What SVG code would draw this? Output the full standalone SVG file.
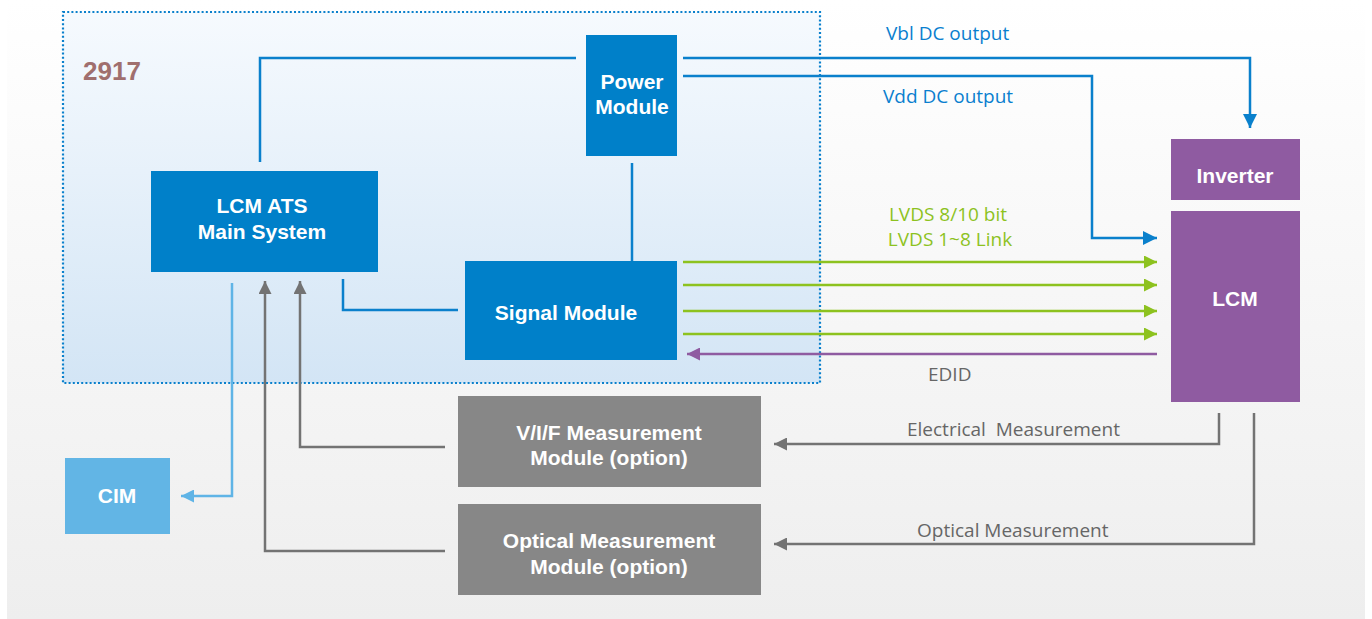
<svg xmlns="http://www.w3.org/2000/svg" width="1372" height="619" viewBox="0 0 1372 619">
<defs>
<linearGradient id="bg" x1="0" y1="0" x2="0" y2="1"><stop offset="0" stop-color="#ffffff"/><stop offset="1" stop-color="#eeeeee"/></linearGradient>
<linearGradient id="sys" x1="0" y1="0" x2="0" y2="1"><stop offset="0" stop-color="#f6fafe"/><stop offset="1" stop-color="#d3e5f5"/></linearGradient>
<marker id="aBlue" viewBox="0 0 10 10" refX="10" refY="5" markerWidth="18" markerHeight="14" markerUnits="userSpaceOnUse" orient="auto"><path d="M0,0L10,5L0,10z" fill="#0a80cc"/></marker>
<marker id="aGreen" viewBox="0 0 10 10" refX="10" refY="5" markerWidth="18" markerHeight="13" markerUnits="userSpaceOnUse" orient="auto"><path d="M0,0L10,5L0,10z" fill="#8dc21f"/></marker>
<marker id="aPurple" viewBox="0 0 10 10" refX="10" refY="5" markerWidth="18" markerHeight="13" markerUnits="userSpaceOnUse" orient="auto"><path d="M0,0L10,5L0,10z" fill="#8f5ba1"/></marker>
<marker id="aGray" viewBox="0 0 10 10" refX="10" refY="5" markerWidth="18" markerHeight="13" markerUnits="userSpaceOnUse" orient="auto"><path d="M0,0L10,5L0,10z" fill="#737373"/></marker>
<marker id="aLight" viewBox="0 0 10 10" refX="10" refY="5" markerWidth="18" markerHeight="13" markerUnits="userSpaceOnUse" orient="auto"><path d="M0,0L10,5L0,10z" fill="#5fb4e6"/></marker>
</defs>
<style>
.bt{font-family:"Liberation Sans",Arial,sans-serif;font-weight:bold;fill:#ffffff;text-anchor:middle;font-size:21px}
.lb{font-family:"Open Sans","Noto Sans",sans-serif;font-size:19px}
.blue{stroke:#0a80cc;stroke-width:2.5;fill:none}
.green{stroke:#8dc21f;stroke-width:2.5;fill:none}
.gray{stroke:#737373;stroke-width:2.5;fill:none}
</style>
<rect x="7" y="0" width="1358" height="619" fill="url(#bg)"/>
<g id="system">
<rect x="63" y="12" width="757" height="371" fill="url(#sys)" stroke="#0a80cc" stroke-width="2.2" stroke-dasharray="2 2.2"/>
<text x="83" y="80" font-family="Liberation Sans,Arial,sans-serif" font-weight="bold" font-size="26" fill="#a06f6e">2917</text>
</g>
<g id="connectors">
<polyline class="blue" points="260,162 260,58 576,58"/>
<polyline class="blue" points="683,58 1250,58 1250,128" marker-end="url(#aBlue)"/>
<polyline class="blue" points="683,76 1092,76 1092,238 1157,238" marker-end="url(#aBlue)"/>
<line class="blue" x1="632" y1="163" x2="632" y2="261"/>
<polyline class="blue" points="343,279 343,310 458,310"/>
<line class="green" x1="683" y1="262" x2="1157" y2="262" marker-end="url(#aGreen)"/>
<line class="green" x1="683" y1="285" x2="1157" y2="285" marker-end="url(#aGreen)"/>
<line class="green" x1="683" y1="311" x2="1157" y2="311" marker-end="url(#aGreen)"/>
<line class="green" x1="683" y1="334" x2="1157" y2="334" marker-end="url(#aGreen)"/>
<line x1="1157" y1="354" x2="687" y2="354" stroke="#8f5ba1" stroke-width="2.5" marker-end="url(#aPurple)"/>
<polyline class="gray" points="1219,413 1219,444 774,444" marker-end="url(#aGray)"/>
<polyline class="gray" points="1254,413 1254,544 774,544" marker-end="url(#aGray)"/>
<polyline class="gray" points="445,447 300,447 300,281" marker-end="url(#aGray)"/>
<polyline class="gray" points="445,551 265,551 265,281" marker-end="url(#aGray)"/>
<polyline points="232,283 232,496 181,496" fill="none" stroke="#5fb4e6" stroke-width="2.5" marker-end="url(#aLight)"/>
<text class="lb" x="886" y="40" fill="#0a7fcf">Vbl DC output</text>
<text class="lb" x="883" y="103" fill="#0a7fcf">Vdd DC output</text>
<text class="lb" x="948" y="221" fill="#8dc21f" text-anchor="middle">LVDS 8/10 bit</text>
<text class="lb" x="950" y="246" fill="#8dc21f" text-anchor="middle">LVDS 1~8 Link</text>
<text class="lb" x="928" y="381" fill="#666666">EDID</text>
<text class="lb" x="907" y="436" fill="#666666" xml:space="preserve">Electrical  Measurement</text>
<text class="lb" x="917" y="537" fill="#666666">Optical Measurement</text>
</g>
<g id="ats"><rect x="151" y="171" width="227" height="101" fill="#0080c9"/><text class="bt" x="262" y="213">LCM ATS</text><text class="bt" x="262" y="239">Main System</text></g>
<g id="power"><rect x="586" y="35" width="91" height="121" fill="#0080c9"/><text class="bt" x="632" y="89">Power</text><text class="bt" x="632" y="114">Module</text></g>
<g id="signal"><rect x="465" y="261" width="212" height="99" fill="#0080c9"/><text class="bt" x="566" y="320">Signal Module</text></g>
<g id="inverter"><rect x="1171" y="139" width="129" height="61" fill="#8f5ba1"/><text class="bt" x="1235" y="183">Inverter</text></g>
<g id="lcm"><rect x="1171" y="211" width="129" height="191" fill="#8f5ba1"/><text class="bt" x="1235" y="306">LCM</text></g>
<g id="vif"><rect x="458" y="396" width="303" height="91" fill="#878787"/><text class="bt" x="609" y="440">V/I/F Measurement</text><text class="bt" x="609" y="465">Module (option)</text></g>
<g id="optical"><rect x="458" y="504" width="303" height="91" fill="#878787"/><text class="bt" x="609" y="548">Optical Measurement</text><text class="bt" x="609" y="574">Module (option)</text></g>
<g id="cim"><rect x="65" y="458" width="105" height="76" fill="#62b5e5"/><text class="bt" x="117" y="503">CIM</text></g>
</svg>
